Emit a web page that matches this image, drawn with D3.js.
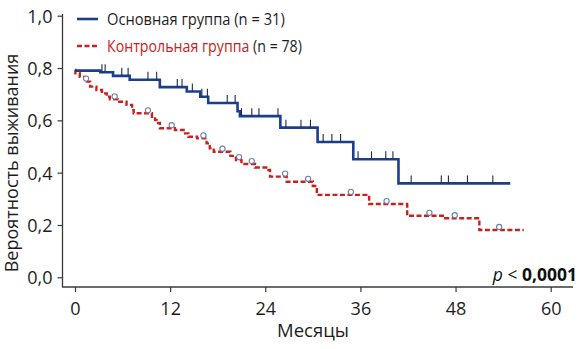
<!DOCTYPE html>
<html><head><meta charset="utf-8">
<script src="https://cdn.jsdelivr.net/npm/d3@7"></script>
<style>body{margin:0;background:#fff}svg{display:block}text{font-family:"Open Sans",sans-serif;font-stretch:93%}</style>
</head><body><svg id="c" width="584" height="349"></svg>
<script>
// ---- data ----
const xTicks = [0, 12, 24, 36, 48, 60];
const yTicks = [0, 0.2, 0.4, 0.6, 0.8, 1.0];
const yTickLabels = ["0,0", "0,2", "0,4", "0,6", "0,8", "1,0"];
const mainName = "Основная группа", mainN = "(n = 31)";
const ctrlName = "Контрольная группа", ctrlN = "(n = 78)";
// step points: [month, survival after step]
const mainSteps = [[0,0.79],[3.2,0.784],[4.8,0.77],[6.9,0.755],[10.7,0.727],[14.1,0.71],[15.8,0.69],[16.8,0.666],[20.5,0.635],[20.8,0.616],[25.9,0.572],[30.6,0.517],[35.1,0.451],[40.8,0.359]];
const mainEnd = 54.9;
const mainCensor = [3.4,3.8,5.9,6.7,9.2,10.3,12.9,13.5,14.8,16.0,16.7,19.2,20.2,21.0,22.3,23.2,25.6,26.6,28.5,29.7,31.3,32.4,33.5,35.7,37.4,39.2,40.1,42.4,46.2,47.1,49.5,52.7];
const ctrlSteps = [[0,0.793],[0.05,0.78],[0.6,0.766],[1.3,0.748],[1.9,0.729],[2.7,0.716],[3.4,0.703],[4.0,0.69],[4.4,0.68],[5.4,0.671],[6.5,0.659],[7.2,0.639],[7.4,0.627],[9.7,0.614],[10.1,0.601],[10.3,0.59],[10.7,0.57],[12.6,0.563],[13.7,0.55],[14.3,0.537],[15.4,0.531],[16.6,0.512],[17.0,0.493],[17.5,0.48],[19.6,0.464],[20.3,0.448],[21.0,0.433],[22.7,0.42],[24.4,0.41],[24.6,0.385],[26.7,0.365],[30.0,0.349],[30.5,0.315],[37.1,0.28],[41.9,0.235],[46.7,0.226],[51.0,0.181]];
const ctrlEnd = 56.6;
const ctrlCensor = [1.4,5.0,9.2,12.2,16.2,18.6,20.7,22.3,26.5,29.4,34.8,39.3,44.7,47.9,53.5];

// ---- drawing ----
const svg = d3.select("#c");
const x = d3.scaleLinear().domain([0,60]).range([75,550.7]);
const y = d3.scaleLinear().domain([0,1]).range([277.3,15.7]);
const blue = "#1b3f8f", red = "#c9211e", axisC = "#3a3a3a", txt = "#1e1e1e";

// axes lines
svg.append("line").attr("x1",62.5).attr("x2",62.5).attr("y1",14).attr("y2",287).attr("stroke",axisC).attr("stroke-width",1.3);
svg.append("line").attr("x1",62).attr("x2",573).attr("y1",287).attr("y2",287).attr("stroke",axisC).attr("stroke-width",1.3);

const gy = svg.append("g").attr("transform","translate(62.5,0)")
  .call(d3.axisLeft(y).tickValues(yTicks).tickSize(5).tickFormat((d,i)=>yTickLabels[i]));
gy.select(".domain").remove();
gy.selectAll("text").attr("font-size",18).attr("fill",txt).attr("x",-10).attr("dy","0.36em").style("font-family","'Open Sans',sans-serif");
gy.selectAll("line").attr("stroke",axisC).attr("stroke-width",1.2);

const gx = svg.append("g").attr("transform","translate(0,287)")
  .call(d3.axisBottom(x).tickValues(xTicks).tickSize(5));
gx.select(".domain").remove();
gx.selectAll("text").attr("font-size",18).attr("fill",txt).attr("y",28).attr("dy",0).style("font-family","'Open Sans',sans-serif");
gx.selectAll("line").attr("stroke",axisC).attr("stroke-width",1.2);

svg.append("text").attr("x",313).attr("y",337).attr("text-anchor","middle").attr("font-size",18.5).attr("fill",txt).text("Месяцы");
svg.append("text").attr("transform","translate(18,163) rotate(-90)").attr("text-anchor","middle").attr("font-size",18).attr("fill",txt).text("Вероятность выживания");

function stepVal(steps,t){let v=steps[0][1];for(const s of steps){if(s[0]<=t)v=s[1];}return v;}
const line = d3.line().x(d=>x(d[0])).y(d=>y(d[1])).curve(d3.curveStepAfter);

// control curve
const cPts = ctrlSteps.concat([[ctrlEnd, ctrlSteps[ctrlSteps.length-1][1]]]);
svg.append("path").datum(cPts).attr("d",line).attr("fill","none").attr("stroke",red).attr("stroke-width",2.4).attr("stroke-dasharray","5,2.5");
svg.selectAll(".cc").data(ctrlCensor).enter().append("circle")
  .attr("cx",d=>x(d)).attr("cy",d=>y(stepVal(ctrlSteps,d))-3).attr("r",2.6)
  .attr("fill","white").attr("stroke","#6f7ea8").attr("stroke-width",1.1);

// main curve
const mPts = mainSteps.concat([[mainEnd, mainSteps[mainSteps.length-1][1]]]);
svg.append("path").datum(mPts).attr("d",line).attr("fill","none").attr("stroke",blue).attr("stroke-width",2.6);
svg.selectAll(".mc").data(mainCensor).enter().append("line")
  .attr("x1",d=>x(d)).attr("x2",d=>x(d))
  .attr("y1",d=>y(stepVal(mainSteps,d))).attr("y2",d=>y(stepVal(mainSteps,d))-8)
  .attr("stroke","#1a2a50").attr("stroke-width",1.1);

// legend (each line scaled horizontally to the reference width)
function fitText(g, target){
  const t = g.select("text").node();
  const w = t.getComputedTextLength();
  const s = w > 0 ? target / w : 1;
  t.setAttribute("transform", "scale(" + s + ",1)");
}
svg.append("line").attr("x1",77).attr("x2",98).attr("y1",19).attr("y2",19).attr("stroke",blue).attr("stroke-width",2.6);
const l1 = svg.append("g").attr("transform","translate(107,25)");
l1.append("text").attr("font-size",17).attr("fill",txt).text(mainName + " " + mainN);
fitText(l1, 178);
svg.append("line").attr("x1",77).attr("x2",98).attr("y1",46).attr("y2",46).attr("stroke",red).attr("stroke-width",2.4).attr("stroke-dasharray","5,2.5");
const l2 = svg.append("g").attr("transform","translate(107,52)");
const t2 = l2.append("text").attr("font-size",17).attr("fill",txt);
t2.append("tspan").attr("fill",red).text(ctrlName);
t2.append("tspan").text(" " + ctrlN);
fitText(l2, 195);

// p value
const pt = svg.append("text").attr("x",577).attr("y",281).attr("text-anchor","end").attr("font-size",17.5).attr("fill","#111");
pt.append("tspan").attr("font-style","italic").text("p");
pt.append("tspan").text(" < ");
pt.append("tspan").attr("font-weight","bold").text("0,0001");
</script></body></html>
